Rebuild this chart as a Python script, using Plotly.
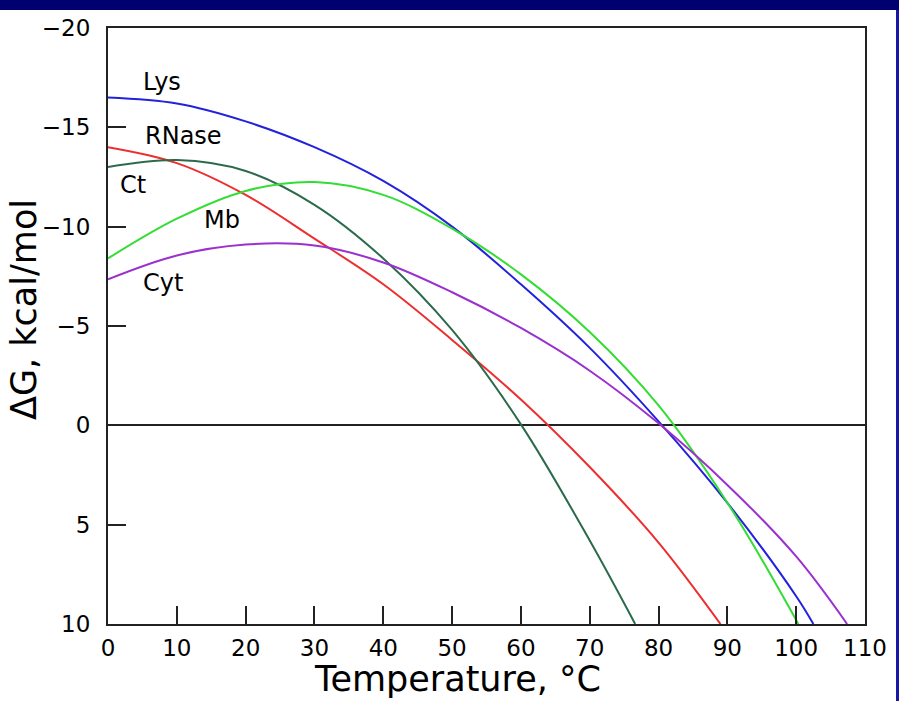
import plotly.graph_objects as go

# Temperature (°C) and ΔG (kcal/mol)
lys_T = [0, 10, 20, 30, 40, 50, 60, 70, 80, 90, 100, 102.5]
lys_G = [-16.5, -16.2, -15.3, -14.0, -12.3, -10.0, -7.1, -3.9, -0.2, 3.9, 8.6, 10]

rnase_T = [0, 10, 20, 30, 40, 50, 60, 70, 80, 89]
rnase_G = [-14.0, -13.2, -11.6, -9.4, -7.1, -4.3, -1.3, 2.1, 5.9, 10]

ct_T = [0, 10, 20, 30, 40, 50, 60, 70, 76.6]
ct_G = [-13.0, -13.35, -12.8, -11.1, -8.4, -4.8, -0.05, 5.8, 10]

mb_T = [0, 10, 20, 30, 40, 50, 60, 70, 80, 90, 100, 100.3]
mb_G = [-8.4, -10.4, -11.8, -12.25, -11.6, -9.9, -7.6, -4.7, -1.0, 3.9, 9.8, 10]

cyt_T = [0, 10, 20, 30, 40, 50, 60, 70, 80, 90, 100, 107.4]
cyt_G = [-7.35, -8.55, -9.1, -9.05, -8.2, -6.7, -4.9, -2.75, -0.1, 3.0, 6.6, 10]

series = [
    ("Lys", lys_T, lys_G, "#2222dd"),
    ("RNase", rnase_T, rnase_G, "#ee2e2e"),
    ("Ct", ct_T, ct_G, "#2b6b4c"),
    ("Mb", mb_T, mb_G, "#33dd33"),
    ("Cyt", cyt_T, cyt_G, "#9b30d0"),
]

# label positions (T, ΔG)
labels = [
    ("Lys", 7.8, -17.3),
    ("RNase", 11.0, -14.55),
    ("Ct", 3.6, -12.1),
    ("Mb", 16.6, -10.35),
    ("Cyt", 8.0, -7.15),
]

x_ticks = list(range(0, 111, 10))
y_ticks = [-20, -15, -10, -5, 0, 5, 10]

FONT = "DejaVu Sans"

L, R, T_, B = 108, 34, 28, 77
W, H = 899, 701
pw, ph = W - L - R, H - T_ - B


def px_x(x):
    return (x - L) / pw


def px_y(y):
    return (H - B - y) / ph


fig = go.Figure()
for name, T, G, col in series:
    fig.add_trace(go.Scatter(x=T, y=G, mode="lines", name=name,
                             line=dict(color=col, width=2, shape="spline", smoothing=1.0)))

for text, tx, ty in labels:
    fig.add_annotation(x=tx, y=ty, text=text, showarrow=False, xanchor="center", yanchor="middle",
                       font=dict(family=FONT, size=24, color="black"))

# axis titles
fig.add_annotation(x=px_x(457), y=px_y(679), xref="paper", yref="paper", text="Temperature, °C",
                   showarrow=False, xanchor="center", yanchor="middle",
                   font=dict(family=FONT, size=35, color="black"))
fig.add_annotation(x=px_x(24), y=px_y(310), xref="paper", yref="paper", text="ΔG, kcal/mol",
                   showarrow=False, xanchor="center", yanchor="middle", textangle=-90,
                   font=dict(family=FONT, size=35, color="black"))

# background decorations: navy bars
fig.add_shape(type="rect", xref="paper", yref="paper",
              x0=px_x(-5), x1=px_x(W + 5), y0=px_y(10), y1=px_y(-10),
              fillcolor="#000070", line_width=0, layer="below")
fig.add_shape(type="rect", xref="paper", yref="paper",
              x0=px_x(896), x1=px_x(W + 5), y0=px_y(H + 5), y1=px_y(10),
              fillcolor="#1818a8", line_width=0, layer="below")

fig.update_layout(
    width=W, height=H,
    margin=dict(l=L, r=R, t=T_, b=B),
    paper_bgcolor="white", plot_bgcolor="white",
    showlegend=False,
    font=dict(family=FONT, size=23, color="black"),
    xaxis=dict(range=[0, 110], tickvals=x_ticks, ticks="inside", ticklen=18, tickwidth=2,
               tickcolor="#222", showline=True, linecolor="#222", linewidth=2, mirror=True,
               showgrid=False, zeroline=False, tickfont=dict(size=23), ticklabelstandoff=2),
    yaxis=dict(range=[10, -20], tickvals=y_ticks, ticks="inside", ticklen=18, tickwidth=2,
               tickcolor="#222", showline=True, linecolor="#222", linewidth=2, mirror=True,
               showgrid=False, zeroline=True, zerolinecolor="#222", zerolinewidth=2,
               tickfont=dict(size=23), ticklabelstandoff=11),
)

fig.write_html("out.html")
